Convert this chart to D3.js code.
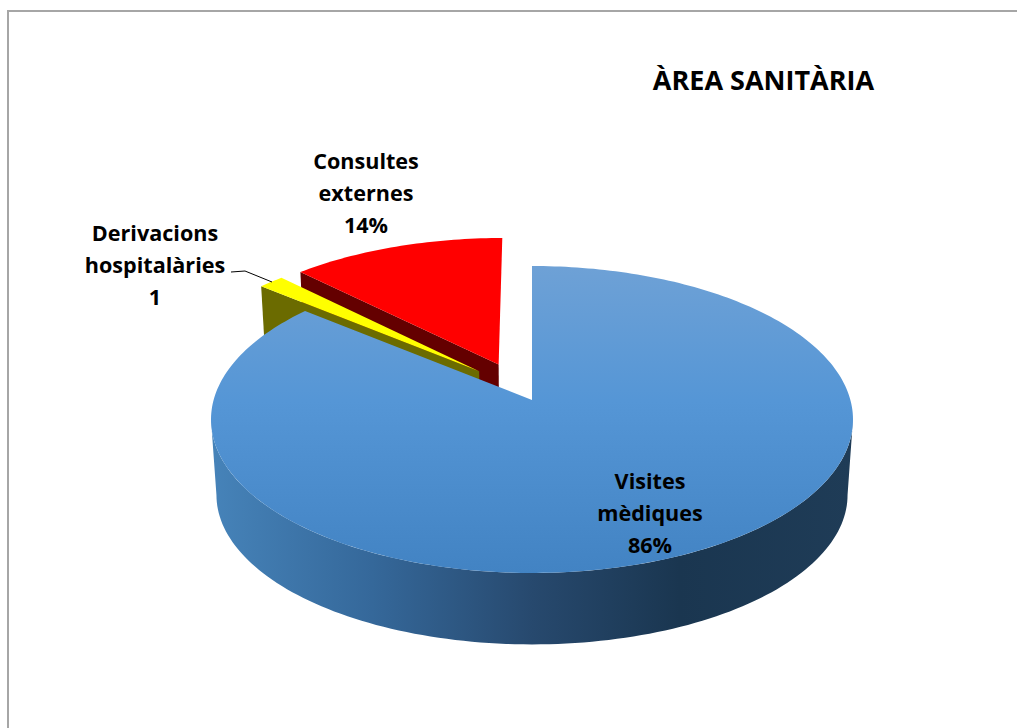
<!DOCTYPE html>
<html>
<head>
<meta charset="utf-8">
<style>html,body{margin:0;padding:0;background:#fff;overflow:hidden}svg{display:block}text{font-family:"Open Sans",sans-serif;font-weight:700;fill:#000;text-anchor:middle}</style>
<script src="https://cdnjs.cloudflare.com/ajax/libs/d3/7.8.5/d3.min.js"></script>
</head>
<body>
<script>
const categories = ["Visites mèdiques", "Derivacions hospitalàries", "Consultes externes"];
const values = [86, 1.5, 12.5];
const labelLines = [["Visites", "mèdiques", "86%"], ["Derivacions", "hospitalàries", "1"], ["Consultes", "externes", "14%"]];
const titleText = "ÀREA SANITÀRIA";

const W = 1017, H = 728;
const svg = d3.select("body").append("svg").attr("width", W).attr("height", H);
const defs = svg.append("defs");

function grad(id, attrs, stops) {
  const g = defs.append("linearGradient").attr("id", id).attr("gradientUnits", "userSpaceOnUse");
  Object.entries(attrs).forEach(([k, v]) => g.attr(k, v));
  stops.forEach(s => g.append("stop").attr("offset", s[0]).attr("stop-color", s[1]));
}
grad("blueTop", {x1: 0, x2: 0, y1: 266, y2: 573}, [[0, "#6ea1d6"], [0.44, "#5596d6"], [1, "#4283c3"]]);
grad("blueWall", {x1: 212, x2: 852, y1: 0, y2: 0},
  [[0, "#4683b9"], [0.25, "#35689a"], [0.5, "#27496e"], [0.73, "#1a3650"], [1, "#1f3c57"]]);

// Conic projection of the tilted pie plane (u to the right, v away from the viewer, unit radius)
const cx = 532, topPlane = {y0: 400, R: 318.4, a: 151, b: 0.127}, basePlane = {y0: 476, R: 313, a: 147, b: 0.127};
const project = (p, u, v) => {
  const d = 1 + p.b * v;
  return [cx + p.R * u / d, p.y0 - p.a * v / d];
};
const polar = (t, r, o) => [o[0] + r * Math.sin(t), o[1] + r * Math.cos(t)];

const pie = d3.pie().sort(null).startAngle(0).endAngle(2 * Math.PI);
const arcs = pie(values);
const explode = [[0, 0], [-0.17, 0.195], [-0.108, 0.242]];
const line = d3.line();

function facePoints(plane, a, o) {
  const steps = Math.max(2, Math.ceil((a.endAngle - a.startAngle) / 0.02));
  const pts = [project(plane, o[0], o[1])];
  d3.range(steps + 1).forEach(i => {
    const t = a.startAngle + (a.endAngle - a.startAngle) * i / steps;
    const q = polar(t, 1, o);
    pts.push(project(plane, q[0], q[1]));
  });
  return pts;
}
function wallPoints(a, o) {
  // the radial wall along the slice's first edge, facing the viewer
  const q = polar(a.startAngle, 1, o);
  return [project(topPlane, o[0], o[1]), project(topPlane, q[0], q[1]),
          project(basePlane, q[0], q[1]), project(basePlane, o[0], o[1])];
}

const g = svg.append("g");

// Consultes externes
g.append("path").attr("d", line(wallPoints(arcs[2], explode[2])) + "Z").attr("fill", "#640000");
g.append("path").attr("d", line(facePoints(topPlane, arcs[2], explode[2])) + "Z").attr("fill", "#ff0000");

// Derivacions hospitalàries
g.append("path").attr("d", line(wallPoints(arcs[1], explode[1])) + "Z").attr("fill", "#6b6b00");
g.append("path").attr("d", line(facePoints(topPlane, arcs[1], explode[1])) + "Z").attr("fill", "#ffff00");

// Visites mèdiques: outer wall between the two silhouette points, then the top face
const tRight = Math.PI - Math.acos(topPlane.b), tLeft = Math.PI + Math.acos(topPlane.b);
const rim = d3.range(0, 121).map(i => tRight + (tLeft - tRight) * i / 120);
const wall = rim.map(t => project(topPlane, Math.sin(t), Math.cos(t)))
  .concat(rim.slice().reverse().map(t => project(basePlane, Math.sin(t), Math.cos(t))));
g.append("path").attr("d", line(wall) + "Z").attr("fill", "url(#blueWall)");
g.append("path").attr("d", line(facePoints(topPlane, arcs[0], explode[0])) + "Z").attr("fill", "url(#blueTop)");

// chart frame (runs off the right and bottom of the picture)
svg.append("path").attr("d", `M8,${H}V11H${W}`).attr("fill", "none").attr("stroke", "#a6a6a6").attr("stroke-width", 2);

// leader line
svg.append("path").attr("d", "M231,272L245,271L272,282").attr("fill", "none").attr("stroke", "#000").attr("stroke-width", 1);

// texts
const fs = 21.6;
const labelAnchors = [[650, 489], [155, 241], [366, 169]];
labelLines.forEach((ls, i) => {
  ls.forEach((s, j) => {
    svg.append("text").attr("x", labelAnchors[i][0]).attr("y", labelAnchors[i][1] + j * 32)
      .attr("font-size", fs).text(s);
  });
});
svg.append("text").attr("x", 763.5).attr("y", 90).attr("font-size", 27).text(titleText);
</script>
</body>
</html>
